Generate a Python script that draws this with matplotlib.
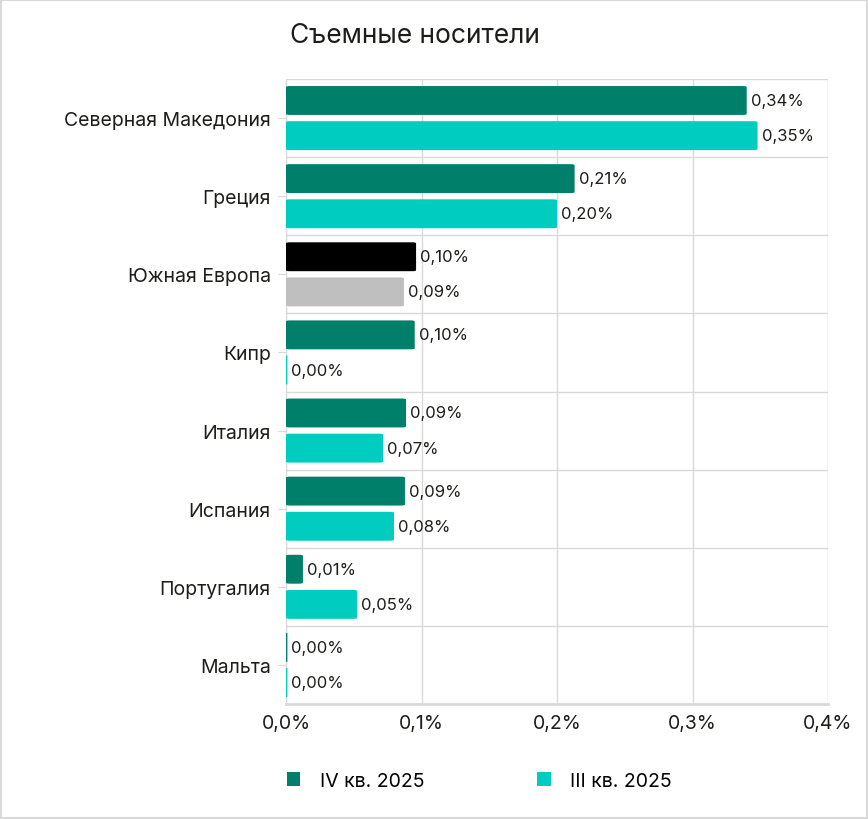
import matplotlib.pyplot as plt
import numpy as np
from matplotlib.patches import FancyBboxPatch, Rectangle
from matplotlib.ticker import FixedLocator, FuncFormatter

plt.rcParams['font.family'] = ['Inter', 'DejaVu Sans']

# данные
categories = ["Северная Македония", "Греция", "Южная Европа", "Кипр",
              "Италия", "Испания", "Португалия", "Мальта"]
q4_2025 = [0.340, 0.213, 0.096, 0.095, 0.0886, 0.0878, 0.0125, 0.001]
q3_2025 = [0.348, 0.200, 0.087, 0.001, 0.0716, 0.0797, 0.0524, 0.001]
series_names = ["IV кв. 2025", "III кв. 2025"]
x_ticks = [0.0, 0.1, 0.2, 0.3, 0.4]

c_q4 = "#00806a"
c_q3 = "#00ccbf"
c_hl4 = "#000000"   # Южная Европа
c_hl3 = "#bfbfbf"
grid_c = "#d9d9d9"
text_c = "#1d1d1b"

fig = plt.figure(figsize=(8.68, 8.2), dpi=100)
ax = fig.add_axes([286 / 868, 1 - 705 / 820, (828 - 286) / 868, (705 - 80) / 820])

n = len(categories)
y = np.arange(n)
h = 0.37
off = 0.225

def rbar(x0, yc, w, color):
    # бар со скруглёнными углами
    if w <= 0:
        return
    r = min(0.003, w / 2)
    p = FancyBboxPatch((x0, yc - h / 2), w, h,
                       boxstyle="round,pad=0,rounding_size=%f" % r,
                       mutation_aspect=4.0,
                       fc=color, ec="none", zorder=3)
    ax.add_patch(p)

for i in range(n):
    c4 = c_hl4 if categories[i] == "Южная Европа" else c_q4
    c3 = c_hl3 if categories[i] == "Южная Европа" else c_q3
    rbar(0, y[i] - off, q4_2025[i], c4)
    rbar(0, y[i] + off, q3_2025[i], c3)
    for val, yy in ((q4_2025[i], y[i] - off), (q3_2025[i], y[i] + off)):
        ax.text(val + 0.003, yy, ("%.2f%%" % val).replace(".", ","),
                va="center", ha="left", fontsize=12, color=text_c, zorder=4)

ax.set_xlim(0, 0.4)
ax.set_ylim(n - 0.5, -0.5)
ax.set_yticks(y)
ax.set_yticklabels(categories, fontsize=14, color=text_c)
ax.yaxis.set_minor_locator(FixedLocator(np.arange(-0.5, n, 1.0)))
ax.set_xticks(x_ticks)
ax.xaxis.set_major_formatter(FuncFormatter(lambda v, p: ("%.1f%%" % v).replace(".", ",")))
ax.tick_params(axis="x", labelsize=14, colors=text_c, length=0, pad=7)
ax.tick_params(axis="y", which="major", length=6, color=grid_c, pad=5)
ax.tick_params(axis="y", which="minor", length=0)
ax.grid(axis="x", color=grid_c, lw=1, zorder=0)
ax.grid(axis="y", which="minor", color=grid_c, lw=1, zorder=0)
ax.grid(axis="y", which="major", visible=False)
for s in ("top", "right"):
    ax.spines[s].set_visible(False)
ax.spines["left"].set_color(grid_c)
ax.spines["bottom"].set_color(grid_c)
ax.spines["bottom"].set_linewidth(2)

fig.text(290 / 868, 1 - 36 / 820, "Съемные носители", fontsize=19, color=text_c,
         ha="left", va="center")

handles = [Rectangle((0, 0), 1, 1, fc=c_q4), Rectangle((0, 0), 1, 1, fc=c_q3)]
fig.legend(handles, series_names, loc="center", bbox_to_anchor=(0.552, 1 - 782 / 820),
           ncol=2, frameon=False, fontsize=14, handlelength=0.7, handleheight=0.7,
           columnspacing=5.8, handletextpad=1.0)

fig.patches.append(Rectangle((0.001, 0.001), 0.998, 0.998, transform=fig.transFigure,
                             fill=False, ec=grid_c, lw=1.5))

fig.savefig("out.png", dpi=100)
